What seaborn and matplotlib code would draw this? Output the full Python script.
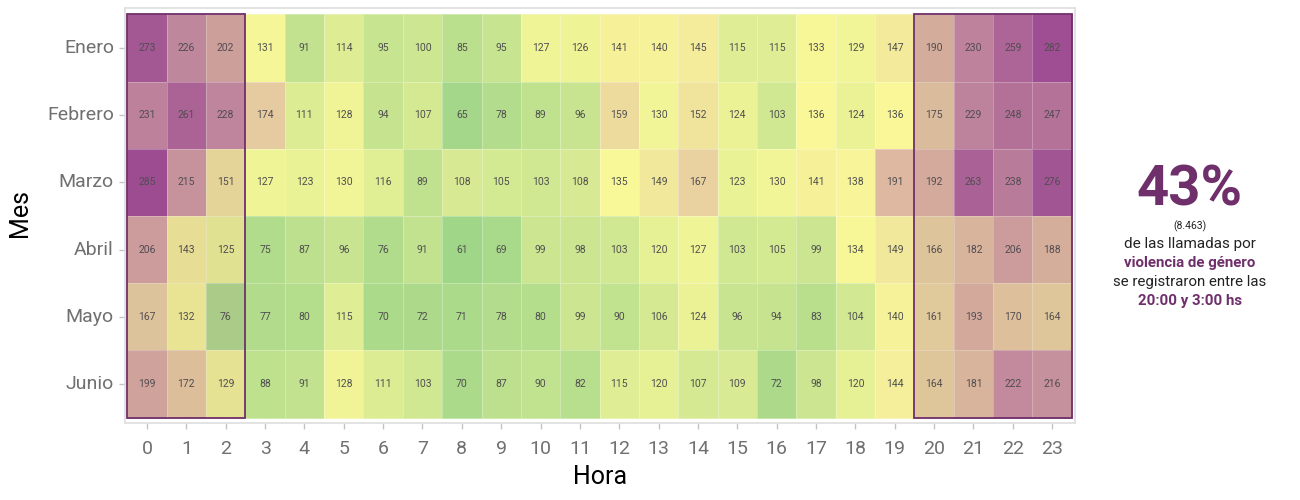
import numpy as np
import pandas as pd
import matplotlib
matplotlib.use('Agg')
import matplotlib.pyplot as plt
from matplotlib.colors import LinearSegmentedColormap
from matplotlib.patches import Rectangle
import seaborn as sns

meses = ['Enero', 'Febrero', 'Marzo', 'Abril', 'Mayo', 'Junio']
horas = list(range(24))

enero = [273, 226, 202, 131, 91, 114, 95, 100, 85, 95, 127, 126, 141, 140, 145, 115, 115, 133, 129, 147, 190, 230, 259, 282]
febrero = [231, 261, 228, 174, 111, 128, 94, 107, 65, 78, 89, 96, 159, 130, 152, 124, 103, 136, 124, 136, 175, 229, 248, 247]
marzo = [285, 215, 151, 127, 123, 130, 116, 89, 108, 105, 103, 108, 135, 149, 167, 123, 130, 141, 138, 191, 192, 263, 238, 276]
abril = [206, 143, 125, 75, 87, 96, 76, 91, 61, 69, 99, 98, 103, 120, 127, 103, 105, 99, 134, 149, 166, 182, 206, 188]
mayo = [167, 132, 76, 77, 80, 115, 70, 72, 71, 78, 80, 99, 90, 106, 124, 96, 94, 83, 104, 140, 161, 193, 170, 164]
junio = [199, 172, 129, 88, 91, 128, 111, 103, 70, 87, 90, 82, 115, 120, 107, 109, 72, 98, 120, 144, 164, 181, 222, 216]

PURPLE = '#6f2f6b'
GREY = '#707070'

sns.set_theme(style='white')
plt.rcParams['font.family'] = ['Roboto', 'DejaVu Sans']

df = pd.DataFrame([enero, febrero, marzo, abril, mayo, junio], index=meses, columns=horas)

vmin, vmax = 61, 285
anchors = [(61, (160, 214, 136)), (100, (205, 230, 145)), (135, (249, 248, 152)),
           (167, (233, 210, 160)), (191, (222, 184, 160)), (230, (198, 140, 161)),
           (285, (162, 79, 150))]
cmap = LinearSegmentedColormap.from_list(
    'llamadas',
    [((v - vmin) / (vmax - vmin), tuple(c / 255 for c in rgb)) for v, rgb in anchors])

fig = plt.figure(figsize=(13, 5), dpi=100)
ax = fig.add_axes([125 / 1300, 1 - 423 / 500, 950 / 1300, 415 / 500])

sns.heatmap(df, ax=ax, cmap=cmap, vmin=vmin, vmax=vmax, cbar=False,
            annot=True, fmt='d', annot_kws={'size': 7.5, 'color': '#505050'},
            linewidths=0.5, linecolor=(1, 1, 1, 0.3))

ax.set_xlim(-0.059, 24.08)
ax.set_ylim(6.08, -0.095)

# franjas nocturnas
for x0, ancho in [(0, 3), (20, 4)]:
    ax.add_patch(Rectangle((x0, 0), ancho, 6, facecolor=PURPLE, alpha=0.09, edgecolor='none', zorder=3))
    ax.add_patch(Rectangle((x0, 0), ancho, 6, fill=False, edgecolor=PURPLE, linewidth=1.3, zorder=4))

for spine in ax.spines.values():
    spine.set_visible(True)
    spine.set_color('#dedede')
    spine.set_linewidth(1.2)

ax.tick_params(axis='both', length=4, width=1, color='#c4c4c4', bottom=True, left=True,
               labelsize=14, labelcolor=GREY, pad=4)
ax.tick_params(axis='y', labelrotation=0)
ax.tick_params(axis='x', labelrotation=0, pad=8)
for lab in ax.get_yticklabels():
    lab.set_y(lab.get_position()[1])
ax.set_xlabel('Hora', fontsize=18, color='black', labelpad=5)
ax.set_ylabel('Mes', fontsize=18, color='black', labelpad=11, y=0.5)
ax.yaxis.label.set_y(0.507)

cx = 1190 / 1300
def nota(y, s, size, color='#222222', weight='normal'):
    fig.text(cx, 1 - y / 500, s, ha='center', va='center', fontsize=size, color=color, fontweight=weight)

nota(190, '43%', 40.5, PURPLE, 'bold')
nota(226, '(8.463)', 7.5)
nota(244, 'de las llamadas por', 11)
nota(263, 'violencia de género', 10.8, PURPLE, 'bold')
nota(282, 'se registraron entre las', 10.8)
nota(301, '20:00 y 3:00 hs', 10.8, PURPLE, 'bold')

fig.savefig('out.png', dpi=100)
